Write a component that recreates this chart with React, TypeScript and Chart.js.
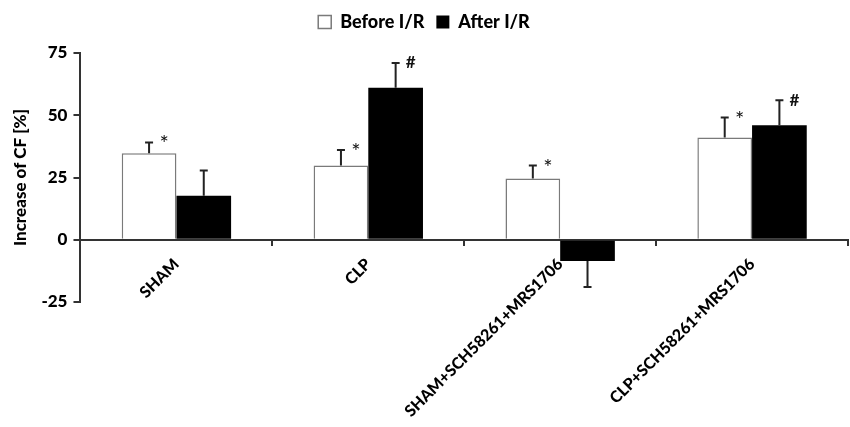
import React, { useEffect, useRef } from 'react';
import { Chart, registerables } from 'chart.js';
Chart.register(...registerables);

const categories = ['SHAM', 'CLP', 'SHAM+SCH58261+MRS1706', 'CLP+SCH58261+MRS1706'];
const seriesNames = ['Before I/R', 'After I/R'];
const beforeValues = [34.7, 29.8, 24.6, 41.1];
const afterValues = [17.7, 61, -8.5, 46];
const beforeErrors = [4.4, 6.2, 5.2, 8];
const afterErrors = [10.1, 10, 10.5, 10];
const beforeMarks = ['*', '*', '*', '*'];
const afterMarks = ['', '#', '', '#'];
const yMin = -25;
const yMax = 75;
const yStep = 25;

const FONT = 'Lato, "Open Sans", sans-serif';
const W = 900;

const legendSpacing = {
  id: 'legendSpacing',
  beforeInit(chart: any) {
    const legend = chart.legend;
    if (!legend) return;
    const orig = legend.fit;
    legend.fit = function () {
      orig.call(this);
      this.height += 12;
    };
  },
};

const errorBarPlugin = {
  id: 'errorBars',
  afterDatasetsDraw(chart: any) {
    const { ctx } = chart;
    const yScale = chart.scales.y;
    const errs = [beforeErrors, afterErrors];
    const marks = [beforeMarks, afterMarks];
    ctx.save();
    chart.data.datasets.forEach((ds: any, di: number) => {
      const meta = chart.getDatasetMeta(di);
      meta.data.forEach((bar: any, i: number) => {
        const v = ds.data[i];
        const e = errs[di][i];
        const end = v >= 0 ? v + e : v - e;
        const x = bar.x;
        const y0 = yScale.getPixelForValue(v);
        const y1 = yScale.getPixelForValue(end);
        ctx.strokeStyle = '#222';
        ctx.lineWidth = 2;
        ctx.beginPath();
        ctx.moveTo(x, y0);
        ctx.lineTo(x, y1);
        ctx.moveTo(x - 4, y1);
        ctx.lineTo(x + 4, y1);
        ctx.stroke();
        const m = marks[di][i];
        if (m) {
          ctx.fillStyle = '#111';
          ctx.textAlign = 'center';
          ctx.textBaseline = 'middle';
          if (m === '#') {
            ctx.font = `bold 17px ${FONT}`;
            ctx.fillText(m, x + 15, y1);
          } else {
            ctx.font = `22px ${FONT}`;
            ctx.fillText(m, x + 15, y1 + 2);
          }
        }
      });
    });
    ctx.restore();
  },
};

export default function App() {
  const ref = useRef<HTMLCanvasElement>(null);
  useEffect(() => {
    document.body.style.margin = '0';
    const chart = new Chart(ref.current!, {
      type: 'bar',
      data: {
        labels: categories,
        datasets: [
          {
            label: seriesNames[0],
            data: beforeValues,
            backgroundColor: '#ffffff',
            borderColor: '#7a7a7a',
            borderWidth: 1.5,
            categoryPercentage: 0.57,
            barPercentage: 1,
          },
          {
            label: seriesNames[1],
            data: afterValues,
            backgroundColor: '#000000',
            borderColor: '#000000',
            borderWidth: 0,
            categoryPercentage: 0.57,
            barPercentage: 1,
          },
        ],
      },
      options: {
        animation: false,
        responsive: false,
        maintainAspectRatio: false,
        layout: { padding: { left: 0, right: 2, top: 1, bottom: 125 } },
        plugins: {
          legend: {
            position: 'top',
            labels: {
              boxWidth: 13,
              boxHeight: 13,
              color: '#000',
              font: { family: FONT, size: 18, weight: W },
              padding: 12,
            },
          },
          tooltip: { enabled: false },
        },
        scales: {
          x: {
            position: { y: 0 } as any,
            grid: {
              drawOnChartArea: false,
              drawTicks: true,
              tickLength: 5,
              offset: true,
              color: '#333',
              lineWidth: 2,
            },
            border: { color: '#333', width: 2 },
            ticks: {
              color: '#000',
              font: { family: FONT, size: 16, weight: W },
              minRotation: 45,
              maxRotation: 45,
              autoSkip: false,
              padding: 10,
            },
          },
          y: {
            min: yMin,
            max: yMax,
            grid: {
              drawOnChartArea: false,
              drawTicks: true,
              tickLength: 7,
              color: '#333',
              lineWidth: 2,
            },
            border: { color: '#333', width: 2 },
            ticks: {
              stepSize: yStep,
              color: '#000',
              font: { family: FONT, size: 17, weight: W },
              padding: 6,
            },
            title: {
              display: true,
              text: 'Increase of CF [%]',
              color: '#000',
              font: { family: FONT, size: 17, weight: W },
              padding: { top: 10, bottom: 5 },
            },
          },
        },
      },
      plugins: [legendSpacing, errorBarPlugin],
    });
    return () => chart.destroy();
  }, []);
  return (
    <div style={{ width: 850, height: 427 }}>
      <canvas ref={ref} width={850} height={427} style={{ display: 'block' }} />
    </div>
  );
}
